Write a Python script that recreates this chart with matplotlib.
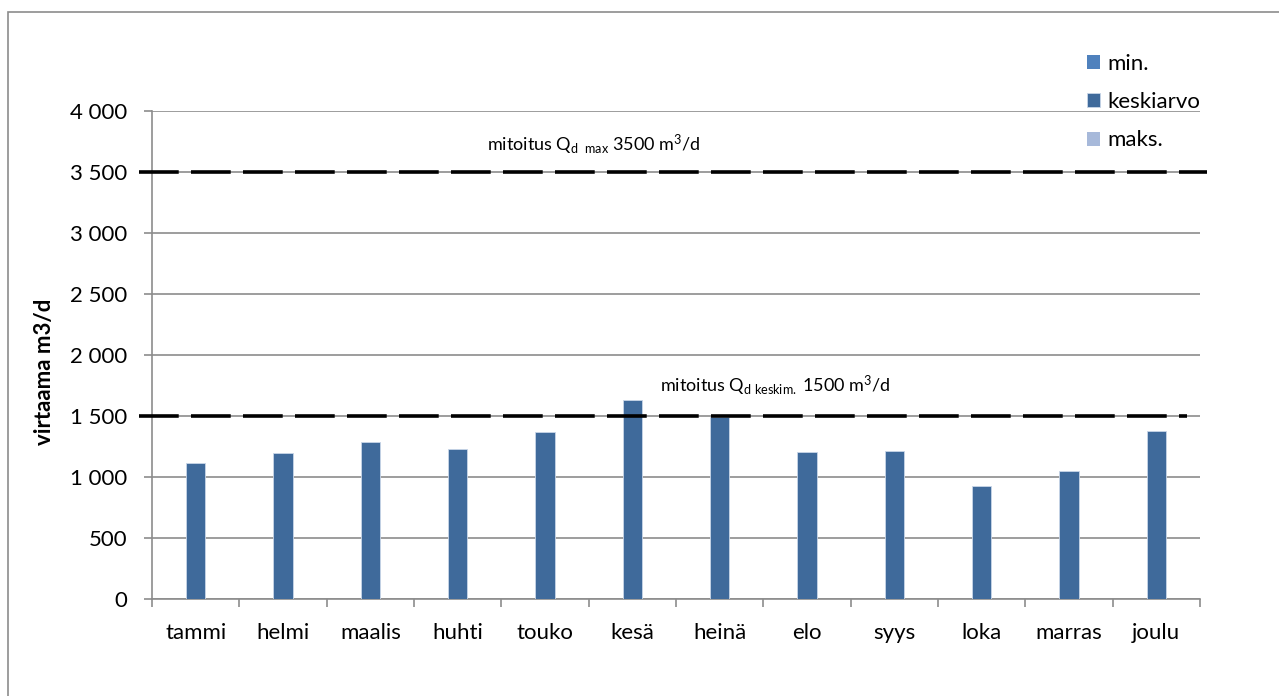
import numpy as np
import matplotlib
matplotlib.use("Agg")
import matplotlib.pyplot as plt
import matplotlib.patches as mpatches
import matplotlib.transforms as mtransforms
from matplotlib.ticker import FuncFormatter, FixedLocator

# kuukausittaiset virtaamat m3/d
kuukaudet = ["tammi", "helmi", "maalis", "huhti", "touko", "kesä",
             "heinä", "elo", "syys", "loka", "marras", "joulu"]
minimi = [0] * 12
keskiarvo = [1112, 1194, 1284, 1227, 1366, 1631, 1494, 1202, 1211, 929, 1047, 1380]
maksimi = [0] * 12

mitoitus_max = 3500
mitoitus_keskim = 1500

plt.rcParams["font.family"] = ["Lato", "DejaVu Sans"]
plt.rcParams["mathtext.fontset"] = "custom"
plt.rcParams["mathtext.rm"] = "Lato"
plt.rcParams["mathtext.it"] = "Lato"

harmaa = "#8c8c8c"

fig = plt.figure(figsize=(12.79, 6.96), dpi=100)
ax = fig.add_axes([152 / 1279, 1 - 599 / 696, 1048 / 1279, 488 / 696])

x = np.arange(len(kuukaudet))
leveys = 0.22
ax.bar(x - leveys, minimi, leveys, color="#4F81BD", linewidth=0, label="min.")
ax.bar(x, keskiarvo, leveys, color="#3F6A9B", edgecolor="#c9d6e8",
       linewidth=0.6, label="keskiarvo", zorder=3)
ax.bar(x + leveys, maksimi, leveys, color="#A7B9DA", linewidth=0, label="maks.")

ax.set_xlim(-0.5, len(kuukaudet) - 0.5)
ax.set_ylim(0, 4000)
ax.set_yticks(np.arange(0, 4001, 500))
ax.yaxis.set_major_formatter(FuncFormatter(lambda v, p: f"{int(v):,}".replace(",", " ")))
ax.grid(axis="y", color=harmaa, linewidth=1.2, zorder=0)
ax.set_axisbelow(True)

ax.set_xticks(x)
ax.set_xticklabels(kuukaudet)
ax.xaxis.set_minor_locator(FixedLocator(np.arange(-0.5, len(kuukaudet), 1)))
ax.tick_params(axis="x", which="major", length=0, pad=17, labelsize=16)
ax.tick_params(axis="x", which="minor", length=6, width=1.2, color=harmaa)
ax.tick_params(axis="y", length=6, width=1.2, color=harmaa, pad=12, labelsize=16)

for s in ["top", "right"]:
    ax.spines[s].set_visible(False)
for s in ["left", "bottom"]:
    ax.spines[s].set_color(harmaa)
    ax.spines[s].set_linewidth(1.2)

# mitoitusviivat
trans = mtransforms.blended_transform_factory(ax.transAxes, ax.transData)
ax.plot([-0.012, 1.007], [mitoitus_max] * 2, color="black", lw=2.6,
        dashes=(11, 3.4), transform=trans, clip_on=False, zorder=4)
ax.plot([-0.012, 0.988], [mitoitus_keskim] * 2, color="black", lw=2.6,
        dashes=(11, 3.4), transform=trans, clip_on=False, zorder=4)

ax.text(3.34, 3720, r"mitoitus Q$_{\mathrm{d\ \ max}}$ 3500 m$^{3}$/d",
        fontsize=13, ha="left", va="center")
ax.text(5.32, 1750, r"mitoitus Q$_{\mathrm{d\ keskim.}}$ 1500 m$^{3}$/d",
        fontsize=13, ha="left", va="center")

fig.text(45 / 1279, 1 - 372 / 696, "virtaama m3/d", rotation=90,
         fontsize=16, fontweight="bold", ha="center", va="center")

fig.legend(loc="upper left", bbox_to_anchor=(1087 / 1279, 1 - 54 / 696),
           frameon=False, fontsize=16, handlelength=0.6, handleheight=0.6,
           handletextpad=0.3, labelspacing=0.82, borderpad=0, borderaxespad=0)

# kehys kuvan ympärillä
fig.patches.append(mpatches.Rectangle((8 / 1279, -0.1), 1.2, 1.1 - 12 / 696,
                                      transform=fig.transFigure, fill=False,
                                      edgecolor=harmaa, linewidth=1.2))

fig.savefig("out.png", dpi=100)
